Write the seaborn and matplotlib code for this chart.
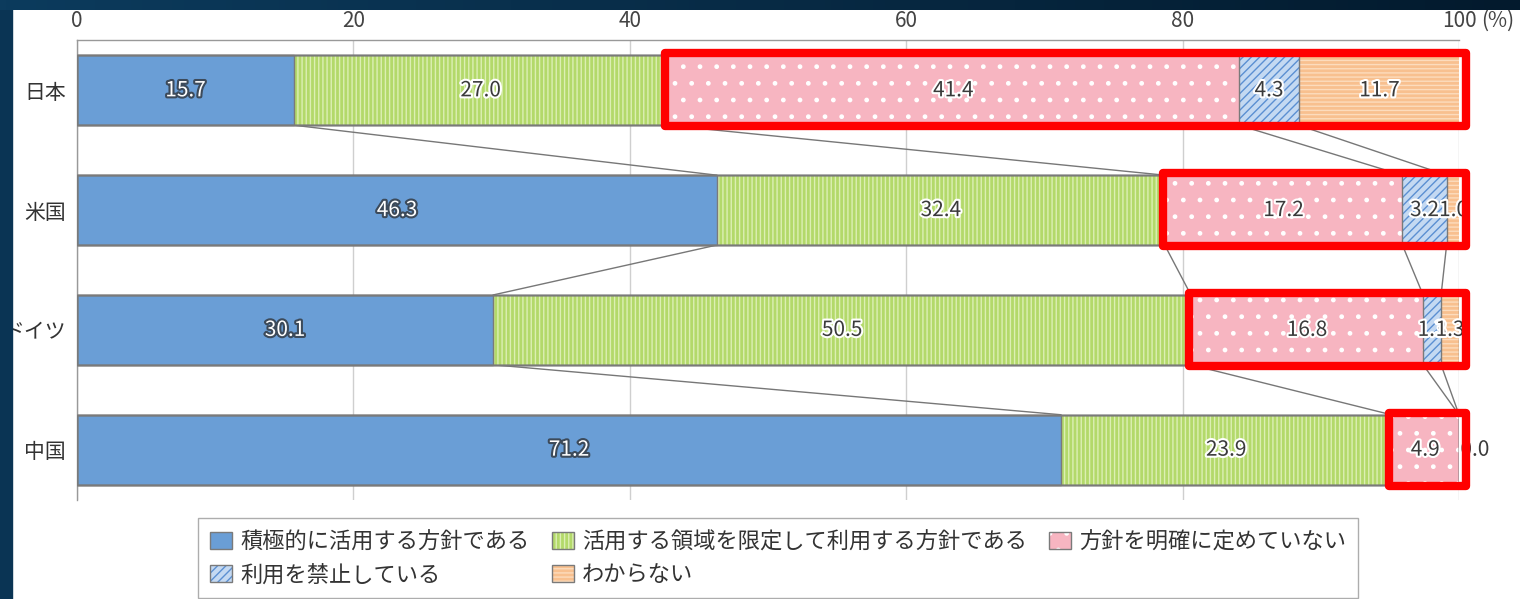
import numpy as np
import pandas as pd
import matplotlib
matplotlib.use('Agg')
import matplotlib.pyplot as plt
import matplotlib.patheffects as pe
from matplotlib.patches import Patch, Rectangle
from matplotlib.colors import LinearSegmentedColormap
from matplotlib.legend_handler import HandlerTuple
import seaborn as sns

# --- data (percent) ---
countries = ['日本', '米国', 'ドイツ', '中国']
active = [15.7, 46.3, 30.1, 71.2]
limited = [27.0, 32.4, 50.5, 23.9]
undecided = [41.4, 17.2, 16.8, 4.9]
banned = [4.3, 3.2, 1.3, 0.0]
unknown = [11.7, 1.0, 1.3, 0.0]

series_names = ['積極的に活用する方針である', '活用する領域を限定して利用する方針である',
                '方針を明確に定めていない', '利用を禁止している', 'わからない']
x_ticks = [0, 20, 40, 60, 80, 100]

face_colors = ['#6a9ed6', '#b3d96a', '#f7b5c1', '#c4d9f2', '#f8c08f']
hatch_colors = [None, '#dcefb4', '#ffffff', '#5b8fd2', '#fcdcbd']
hatches = [None, '||||', '.', '////', '----']
edge = '#7a7a7a'

sns.set_style('white')
plt.rcParams['font.family'] = ['Noto Sans CJK JP', 'DejaVu Sans']
plt.rcParams['hatch.linewidth'] = 1.0

values = np.array([active, limited, undecided, banned, unknown])
cum = values.cumsum(axis=0)
df = pd.DataFrame({'country': countries})
for k in range(5):
    df[f'cum{k}'] = cum[k]

fig = plt.figure(figsize=(15.2, 5.99), dpi=100)
ax = fig.add_axes([0.0507, 0.1653, 0.9092, 0.7679])
bar_h = 0.583

# stacked bars: draw cumulative totals back to front
for k in range(4, -1, -1):
    n0 = len(ax.patches)
    sns.barplot(data=df, x=f'cum{k}', y='country', orient='h', color=face_colors[k],
                saturation=1, width=bar_h, errorbar=None, ax=ax, zorder=2)
    for p in ax.patches[n0:]:
        p.set_linewidth(0)
        if hatches[k]:
            p.set_hatch(hatches[k])
            p.set_edgecolor(hatch_colors[k])

# outlines
for k in range(5):
    n0 = len(ax.patches)
    sns.barplot(data=df, x=f'cum{k}', y='country', orient='h', fill=False, color=edge,
                width=bar_h, errorbar=None, ax=ax, zorder=3)
    for p in ax.patches[n0:]:
        p.set_facecolor('none')
        p.set_edgecolor(edge)
        p.set_linewidth(1)

# connecting lines between bars
for i in range(len(countries) - 1):
    for k in range(4):
        ax.plot([cum[k][i], cum[k][i + 1]], [i + bar_h / 2, i + 1 - bar_h / 2],
                color='#777777', lw=1, zorder=1.5)

# value labels
for i in range(len(countries)):
    for k in range(5):
        v = values[k][i]
        if v == 0:
            x, ha = cum[k][i] + 0.1, 'left'
        else:
            x, ha = cum[k][i] - v / 2, 'center'
        if k == 0:
            col, fx = 'white', [pe.withStroke(linewidth=3, foreground='#3c4a5a')]
        else:
            col, fx = '#3a3a3a', [pe.withStroke(linewidth=3, foreground='white')]
        ax.text(x, i, f'{v:.1f}', ha=ha, va='center', fontsize=15, color=col,
                path_effects=fx, zorder=5)

# red highlight boxes
for i in range(len(countries)):
    x0 = cum[1][i] - 0.15
    ax.add_patch(Rectangle((x0, i - 0.31), 100.5 - x0, 0.61, fill=False, ec='#ff0000',
                           lw=6, joinstyle='round', zorder=6, clip_on=False))

ax.set_xlim(0, 100)
ax.set_ylim(3.42, -0.42)
ax.set_xlabel('')
ax.set_ylabel('')
ax.xaxis.tick_top()
ax.set_xticks(x_ticks)
ax.set_xticklabels([str(t) for t in x_ticks])
ax.tick_params(axis='x', length=0, pad=6, labelsize=15, labelcolor='#444444')
ax.tick_params(axis='y', which='major', length=0, pad=8, labelsize=15, labelcolor='#333333')
ax.set_yticks([0.5, 1.5, 2.5, 3.42], minor=True)
ax.tick_params(axis='y', which='minor', direction='in', length=7, color='#777777', width=1)
ax.grid(axis='x', color='#cfcfcf', lw=1)
ax.set_axisbelow(True)
for s in ['right', 'bottom']:
    ax.spines[s].set_visible(False)
for s in ['top', 'left']:
    ax.spines[s].set_color('#999999')
    ax.spines[s].set_linewidth(1)
ax.annotate('(%)', xy=(1, 1), xycoords='axes fraction', xytext=(16, 6),
            textcoords='offset points', ha='left', va='bottom', fontsize=15, color='#444444')

# legend
handles = []
for k in range(5):
    fill = Patch(facecolor=face_colors[k], hatch=hatches[k],
                 edgecolor=hatch_colors[k] or face_colors[k], lw=0)
    outline = Patch(facecolor='none', edgecolor=edge, lw=1)
    handles.append((fill, outline))
order = [0, 3, 1, 4, 2]
leg = fig.legend([handles[j] for j in order], [series_names[j] for j in order],
                 handler_map={tuple: HandlerTuple(ndivide=1, pad=0)},
                 loc='upper left', bbox_to_anchor=(198 / 1520, 1 - 518 / 599), ncol=3,
                 fontsize=16, frameon=True, fancybox=False, edgecolor='#999999',
                 handlelength=1.0, handleheight=0.75, handletextpad=0.35,
                 columnspacing=1.0, labelspacing=0.45, borderpad=0.55, borderaxespad=0)
leg.get_frame().set_linewidth(1)
for t in leg.get_texts():
    t.set_color('#333333')

# dark frame around the white panel
fig.add_artist(Rectangle((0, 0), 12 / 1520, 1, transform=fig.transFigure,
                         color='#0a3454', zorder=10))
band = fig.add_axes([0, 1 - 10 / 599, 1, 10 / 599], zorder=10)
grad_cmap = LinearSegmentedColormap.from_list('band', ['#0c3b5d', '#031a2d'])
band.imshow(np.linspace(0, 1, 256)[None, :], aspect='auto', cmap=grad_cmap)
band.axis('off')

fig.savefig('out.png', dpi=100)
